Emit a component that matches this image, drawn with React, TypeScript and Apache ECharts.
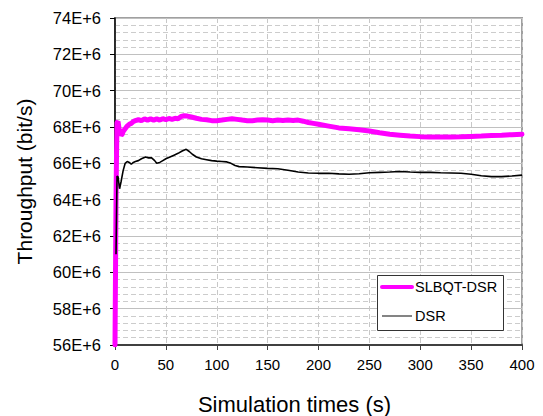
import React, { useEffect, useRef } from "react";
import * as echarts from "echarts";

const seriesNames = ["SLBQT-DSR", "DSR"];

// [simulation time (s), throughput in 1E+6 bit/s]
const slbqtDsr: [number, number][] = [
  [0, 56], [0.5, 60], [1, 64], [1.5, 66.5], [2, 68.25], [3, 68.3], [4, 67.9], [5, 67.7], [6, 67.55],
  [7, 67.6], [8, 67.75], [10, 67.9], [12, 68.05], [14, 68.15], [16, 68.2], [18, 68.3],
  [20, 68.35], [23, 68.4], [26, 68.35], [29, 68.45], [32, 68.38], [35, 68.45], [38, 68.38],
  [41, 68.45], [44, 68.38], [47, 68.46], [50, 68.4], [53, 68.47], [56, 68.42], [59, 68.48],
  [62, 68.45], [65, 68.58], [68, 68.62], [71, 68.6], [75, 68.55], [80, 68.48], [85, 68.42],
  [90, 68.4], [95, 68.35], [100, 68.35], [105, 68.38], [110, 68.42], [115, 68.45],
  [120, 68.42], [125, 68.38], [130, 68.35], [135, 68.35], [140, 68.38], [145, 68.4],
  [150, 68.38], [155, 68.35], [160, 68.38], [165, 68.36], [170, 68.38], [175, 68.36],
  [180, 68.38], [185, 68.32], [190, 68.25], [195, 68.2], [200, 68.15], [210, 68.05],
  [220, 67.95], [230, 67.9], [240, 67.85], [250, 67.78], [260, 67.68], [270, 67.6],
  [280, 67.55], [290, 67.5], [300, 67.47], [310, 67.45], [320, 67.45], [330, 67.45],
  [340, 67.46], [350, 67.48], [360, 67.5], [370, 67.53], [380, 67.55], [390, 67.58], [400, 67.6]
];

const dsr: [number, number][] = [
  [1, 61.0], [1.5, 63.2], [2, 65.3], [3, 65.25], [4.5, 64.6], [6, 65.0], [8, 65.6],
  [10, 66.0], [12, 66.1], [14, 66.05], [16, 65.95], [18, 66.05], [20, 66.1], [23, 66.15],
  [26, 66.25], [30, 66.35], [33, 66.3], [36, 66.3], [39, 66.15], [41, 66.0], [44, 66.05],
  [47, 66.15], [50, 66.25], [54, 66.35], [58, 66.45], [62, 66.55], [66, 66.68], [70, 66.77],
  [73, 66.65], [76, 66.5], [80, 66.35], [85, 66.25], [90, 66.2], [95, 66.15], [100, 66.12],
  [105, 66.1], [110, 66.08], [114, 66.0], [118, 65.88], [122, 65.82], [130, 65.8],
  [140, 65.76], [150, 65.72], [160, 65.7], [170, 65.62], [180, 65.52], [190, 65.47],
  [200, 65.45], [210, 65.45], [220, 65.42], [230, 65.4], [240, 65.43], [250, 65.48],
  [260, 65.5], [270, 65.52], [280, 65.55], [290, 65.52], [300, 65.5], [310, 65.5],
  [320, 65.48], [330, 65.47], [340, 65.45], [350, 65.4], [360, 65.32], [370, 65.27],
  [380, 65.27], [390, 65.3], [400, 65.35]
];

const yMin = 56;
const yMax = 74;
const yStep = 2;
const xMin = 0;
const xMax = 400;
const xStep = 50;

const FONT = "'Liberation Sans', Arial, sans-serif";
const Z = 100;

export default function App() {
  const ref = useRef<HTMLDivElement>(null);

  useEffect(() => {
    if (!ref.current) return;
    const chart = echarts.init(ref.current, undefined, { renderer: "svg" });
    const toData = (arr: [number, number][]) => arr.map(([t, v]) => [t, v * 1e6]);
    chart.setOption({
      animation: false,
      backgroundColor: "#ffffff",
      textStyle: { fontFamily: FONT },
      grid: {
        left: 115,
        right: 21,
        top: 18,
        bottom: 71,
        show: true,
        borderColor: "#a0a0a0",
        borderWidth: 2,
        backgroundColor: "transparent",
        containLabel: false,
        outerBoundsMode: "none",
      },
      graphic: [
        {
          type: "rect",
          z: Z,
          shape: { x: 377.5, y: 275.5, width: 126, height: 55 },
          style: { fill: "#ffffff", stroke: "#333333", lineWidth: 1 },
        },
        {
          type: "line",
          z: Z + 1,
          shape: { x1: 382, y1: 287, x2: 412, y2: 287 },
          style: { stroke: "#ff00ff", lineWidth: 4, lineCap: "round" },
        },
        {
          type: "text",
          z: Z + 1,
          x: 415,
          y: 287,
          style: {
            text: seriesNames[0],
            fontFamily: FONT,
            fontSize: 14.5,
            fill: "#000",
            verticalAlign: "middle",
            align: "left",
          },
        },
        {
          type: "line",
          z: Z + 1,
          shape: { x1: 382, y1: 316, x2: 412, y2: 316 },
          style: { stroke: "#333333", lineWidth: 1.2 },
        },
        {
          type: "text",
          z: Z + 1,
          x: 415,
          y: 316,
          style: {
            text: seriesNames[1],
            fontFamily: FONT,
            fontSize: 14.5,
            fill: "#000",
            verticalAlign: "middle",
            align: "left",
          },
        },
      ],
      xAxis: {
        type: "value",
        min: xMin,
        max: xMax,
        interval: xStep,
        name: "Simulation times (s)",
        nameLocation: "middle",
        nameGap: 48,
        nameTextStyle: {
          fontFamily: FONT,
          fontSize: 22,
          color: "#000",
          padding: [0, 48, 0, 0],
        },
        axisLine: { show: true, onZero: false, lineStyle: { color: "#404040", width: 2 } },
        axisTick: { show: true, length: 5, lineStyle: { color: "#404040", width: 1 } },
        axisLabel: { fontFamily: FONT, fontSize: 15, color: "#000", margin: 12 },
        splitLine: { show: true, lineStyle: { color: "#c8c8c8", type: [5, 3], width: 1 } },
      },
      yAxis: {
        type: "value",
        min: yMin * 1e6,
        max: yMax * 1e6,
        interval: yStep * 1e6,
        name: "Throughput (bit/s)",
        nameLocation: "middle",
        nameGap: 80,
        nameTextStyle: { fontFamily: FONT, fontSize: 21, color: "#000" },
        axisLine: { show: true, lineStyle: { color: "#000", width: 1.5 } },
        axisTick: { show: true, length: 5, lineStyle: { color: "#000", width: 1 } },
        axisLabel: {
          fontFamily: FONT,
          fontSize: 16.5,
          color: "#000",
          margin: 14,
          formatter: (v: number) => `${Math.round(v / 1e6)}E+6`,
        },
        splitLine: { show: true, lineStyle: { color: "#c0c0c0", width: 1 } },
        minorTick: { show: false, splitNumber: 5 },
        minorSplitLine: { show: true, lineStyle: { color: "#cccccc", type: [5, 3], width: 1 } },
      },
      series: [
        {
          name: seriesNames[0],
          type: "line",
          data: toData(slbqtDsr),
          showSymbol: false,
          symbol: "none",
          lineStyle: { color: "#ff00ff", width: 5, cap: "round" },
          z: 2,
        },
        {
          name: seriesNames[1],
          type: "line",
          data: toData(dsr),
          showSymbol: false,
          symbol: "none",
          lineStyle: { color: "#000000", width: 1.6 },
          z: 3,
        },
      ],
    });
    return () => chart.dispose();
  }, []);

  return (
    <div
      ref={ref}
      style={{ position: "absolute", left: 0, top: 0, width: 543, height: 416 }}
    />
  );
}
